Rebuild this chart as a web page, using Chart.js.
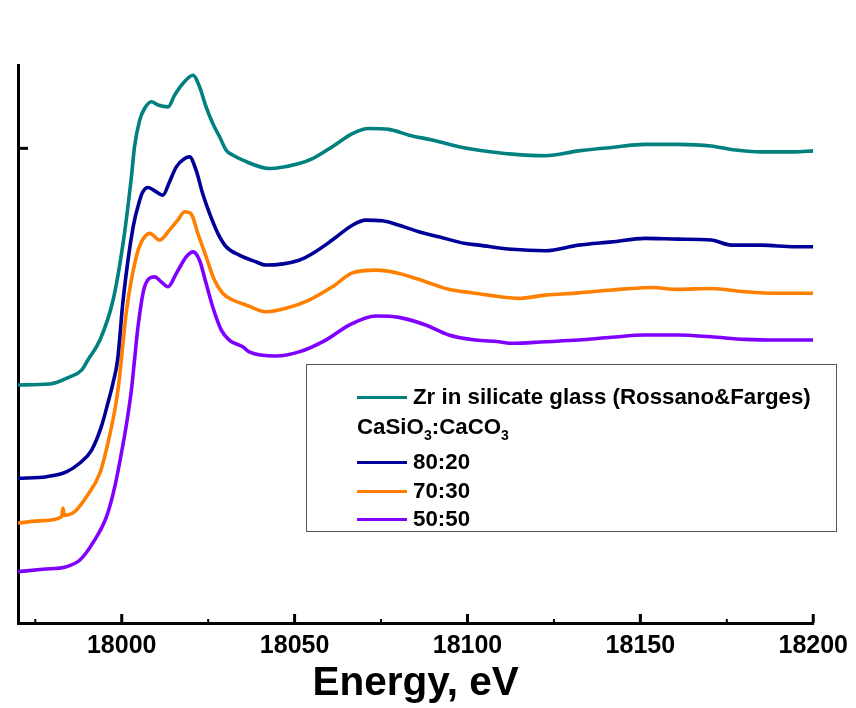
<!DOCTYPE html>
<html>
<head>
<meta charset="utf-8">
<script src="https://cdn.jsdelivr.net/npm/chart.js@4.4.1/dist/chart.umd.min.js"></script>
<style>
  html, body { margin: 0; padding: 0; background: #fff; }
  #wrap { position: relative; width: 856px; height: 708px; }
  #c { position: absolute; left: 0; top: 0; }
  #legend { position: absolute; left: 306px; top: 364px; width: 531px; height: 168px;
            border: 1px solid #555; background: #fff; box-sizing: border-box;
            font-family: "Liberation Sans", Arial, sans-serif; font-weight: bold; font-size: 22.3px; color: #000; }
  .row { position: absolute; height: 30px; line-height: 30px; white-space: nowrap; }
  .sw { position: absolute; width: 50px; height: 3px; }
  sub { font-size: 14px; vertical-align: -6px; line-height: 0; }
</style>
</head>
<body>
<div id="wrap">
  <canvas id="c" width="856" height="708"></canvas>
  <div id="legend"></div>
</div>
<script>
// ---- data ----
const xTicks = [18000, 18050, 18100, 18150, 18200];
const xMinorTicks = [17975, 18025, 18075, 18125, 18175];
const yTicks = [2.0];

const tealE = [17970,17979.2,17985,17988.4,17990.2,17993.7,17997.5,18000.4,18002.8,18003.7,18005.2,18006.6,18008.6,18010.5,18013.4,18015.3,18017.7,18020.6,18022.5,18024.4,18026.3,18028.3,18030.2,18032.1,18035,18042.7,18051.3,18055.2,18060.9,18066.7,18071.5,18077.3,18083.1,18089.8,18097.5,18103.3,18112.9,18122.5,18132.1,18141.7,18151.3,18160.9,18170.5,18176.3,18185,18194.6,18200];
const tealMu = [0.978,0.982,1.013,1.042,1.086,1.172,1.345,1.591,1.877,2.007,2.122,2.172,2.201,2.187,2.179,2.230,2.280,2.316,2.266,2.179,2.108,2.050,1.992,1.971,1.949,1.913,1.935,1.956,2.007,2.064,2.086,2.082,2.057,2.036,2.007,1.992,1.975,1.968,1.989,2.004,2.017,2.017,2.010,1.995,1.985,1.985,1.989];

const blueE = [17970,17978.3,17984,17987.9,17991.3,17994.1,17996,17997.4,17998.8,18000.4,18003.3,18005.2,18006.1,18007.6,18010,18011.9,18013.8,18015.8,18018.2,18019.6,18021.5,18023.4,18025.4,18027.8,18030.2,18034,18038.8,18041.7,18051.3,18055.2,18060.9,18066.7,18070.6,18075.4,18080.2,18085.9,18091.7,18099.4,18103.3,18112.9,18122.5,18132.1,18141.7,18151.3,18160.9,18170.5,18176.3,18185,18194.6,18200];
const blueMu = [0.575,0.582,0.603,0.641,0.697,0.798,0.900,0.982,1.086,1.345,1.661,1.776,1.812,1.831,1.812,1.798,1.855,1.920,1.956,1.963,1.906,1.805,1.719,1.633,1.575,1.539,1.510,1.496,1.517,1.546,1.604,1.668,1.690,1.687,1.668,1.640,1.618,1.589,1.582,1.564,1.558,1.582,1.596,1.611,1.608,1.604,1.582,1.582,1.575,1.575];

const orangeE = [17970,17977.2,17982.6,17983,17983.4,17986.4,17989.8,17993.7,17996,17998,17999.1,18001.4,18004.2,18005.7,18008.1,18011,18013.8,18016.2,18018.2,18020.1,18022,18024.4,18026.8,18029.2,18032.1,18036,18041.7,18047.5,18054.2,18060.9,18066.7,18073.5,18080.2,18087.9,18094.6,18101.3,18106.1,18114.8,18122.5,18132.1,18141.7,18153.2,18160.9,18170.5,18180.2,18189.8,18200];
const orangeMu = [0.382,0.392,0.409,0.447,0.415,0.431,0.495,0.598,0.727,0.870,0.978,1.301,1.532,1.596,1.633,1.604,1.647,1.690,1.726,1.716,1.633,1.532,1.431,1.374,1.345,1.323,1.294,1.309,1.345,1.402,1.462,1.474,1.460,1.424,1.391,1.376,1.366,1.352,1.366,1.376,1.388,1.399,1.391,1.395,1.381,1.374,1.374];

const purpleE = [17970,17977.2,17984,17987.9,17991.6,17995.6,17998,17999.9,18001.4,18002.8,18003.7,18004.7,18006.6,18009.5,18011.4,18013.4,18015.8,18018.7,18020.6,18022.5,18024.4,18026.3,18028.8,18031.1,18035,18036.9,18044.6,18051.3,18059,18065.8,18073.5,18080.2,18087.9,18094.6,18102.3,18109,18112.9,18122.5,18132.1,18141.7,18151.3,18160.9,18170.5,18180.2,18189.8,18200];
const purpleMu = [0.172,0.182,0.193,0.222,0.295,0.409,0.539,0.683,0.812,0.956,1.086,1.229,1.402,1.445,1.424,1.402,1.460,1.532,1.553,1.517,1.417,1.316,1.215,1.172,1.143,1.121,1.103,1.121,1.172,1.237,1.276,1.270,1.237,1.194,1.172,1.165,1.158,1.165,1.172,1.184,1.194,1.194,1.186,1.175,1.172,1.172];

const seriesLabels = ['Zr in silicate glass (Rossano&Farges)', '80:20', '70:30', '50:50'];
const seriesColors = ['#00807f', '#000099', '#ff8000', '#8000ff'];
const legendHeader = 'CaSiO<sub>3</sub>:CaCO<sub>3</sub>';
const xTitle = 'Energy, eV';

// ---- build ----
function pts(xs, ys) { return xs.map((x, i) => ({ x: x, y: ys[i] })); }
const allSeries = [pts(tealE, tealMu), pts(blueE, blueMu), pts(orangeE, orangeMu), pts(purpleE, purpleMu)];

Chart.defaults.font.family = '"Liberation Sans", Arial, sans-serif';
Chart.defaults.color = '#000';

const inwardTicks = {
  id: 'inwardTicks',
  afterDraw(chart) {
    const ctx = chart.ctx, xs = chart.scales.x, ys = chart.scales.y, a = chart.chartArea;
    ctx.save();
    ctx.strokeStyle = '#000';
    ctx.lineCap = 'butt';
    ctx.lineWidth = 3;
    xTicks.forEach(v => { const p = xs.getPixelForValue(v); ctx.beginPath(); ctx.moveTo(p, a.bottom); ctx.lineTo(p, a.bottom - 9); ctx.stroke(); });
    ctx.lineWidth = 2;
    xMinorTicks.forEach(v => { const p = xs.getPixelForValue(v); ctx.beginPath(); ctx.moveTo(p, a.bottom); ctx.lineTo(p, a.bottom - 4); ctx.stroke(); });
    ctx.lineWidth = 3;
    yTicks.forEach(v => { const p = ys.getPixelForValue(v); ctx.beginPath(); ctx.moveTo(a.left, p); ctx.lineTo(a.left + 10, p); ctx.stroke(); });
    ctx.restore();
  }
};

new Chart(document.getElementById('c'), {
  type: 'line',
  data: {
    datasets: allSeries.map((d, i) => ({
      label: seriesLabels[i],
      data: d,
      borderColor: seriesColors[i],
      backgroundColor: seriesColors[i],
      borderWidth: 3.6,
      pointRadius: 0,
      fill: false,
      cubicInterpolationMode: 'monotone'
    }))
  },
  options: {
    responsive: false,
    animation: false,
    layout: { padding: { left: 18, right: 39, top: 65, bottom: 0 } },
    plugins: { legend: { display: false }, tooltip: { enabled: false }, title: { display: false } },
    scales: {
      x: {
        type: 'linear',
        min: 17970, max: 18200,
        afterBuildTicks: s => { s.ticks = xTicks.map(v => ({ value: v })); },
        afterFit: s => { s.height = 85; },
        grid: { display: false, drawTicks: false },
        border: { display: true, color: '#000', width: 3 },
        ticks: { padding: 8, maxRotation: 0, autoSkip: false, font: { size: 25, weight: 'bold' }, color: '#000', callback: v => String(v) },
        title: { display: true, text: xTitle, font: { size: 40.5, weight: 'bold' }, color: '#000', padding: { top: 0, bottom: 0 } }
      },
      y: {
        type: 'linear',
        min: -0.05, max: 2.36,
        afterBuildTicks: s => { s.ticks = yTicks.map(v => ({ value: v })); },
        afterFit: s => { s.width = 0; },
        grid: { display: false, drawTicks: false },
        border: { display: true, color: '#000', width: 3 },
        ticks: { display: false }
      }
    }
  },
  plugins: [inwardTicks]
});

// ---- legend (HTML text) ----
const lg = document.getElementById('legend');
const L = 306, T = 364;
function addRow(cy, color, html, textLeft) {
  if (color) {
    const s = document.createElement('div');
    s.className = 'sw';
    s.style.left = (357 - L - 1) + 'px';
    s.style.top = (cy - T - 1.5 - 1) + 'px';
    s.style.background = color;
    lg.appendChild(s);
  }
  const r = document.createElement('div');
  r.className = 'row';
  r.style.left = (textLeft - L - 1) + 'px';
  r.style.top = (cy - T - 15 - 1) + 'px';
  r.innerHTML = html;
  lg.appendChild(r);
}
addRow(397, seriesColors[0], seriesLabels[0], 413);
addRow(427, null, legendHeader, 357);
addRow(462, seriesColors[1], seriesLabels[1], 413);
addRow(491, seriesColors[2], seriesLabels[2], 413);
addRow(519, seriesColors[3], seriesLabels[3], 413);
</script>
</body>
</html>
